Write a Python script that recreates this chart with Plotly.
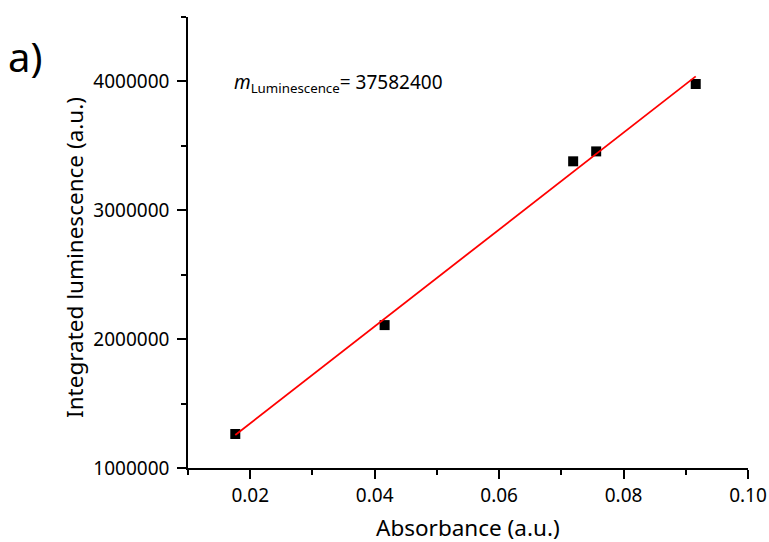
import numpy as np
import plotly.graph_objects as go

# Data
absorbance = [0.0176, 0.0416, 0.0719, 0.0756, 0.0916]
luminescence = [1264000, 2109000, 3380000, 3457000, 3980000]
slope_label = "37582400"

x_ticks = [0.02, 0.04, 0.06, 0.08, 0.10]
x_minor = [0.01, 0.03, 0.05, 0.07, 0.09]
y_ticks = [1000000, 2000000, 3000000, 4000000]
y_minor = [1500000, 2500000, 3500000, 4500000]

# Linear fit line across the data span
coef = np.polyfit(absorbance, luminescence, 1)
fit_x = [min(absorbance), max(absorbance)]
fit_y = [coef[0] * v + coef[1] for v in fit_x]

FONT = "Noto Sans"

fig = go.Figure()
fig.add_trace(go.Scatter(x=absorbance, y=luminescence, mode="markers",
                         marker=dict(symbol="square", size=10, color="black"),
                         showlegend=False))
fig.add_trace(go.Scatter(x=fit_x, y=fit_y, mode="lines",
                         line=dict(color="red", width=1.8), showlegend=False))

fig.update_layout(
    width=769, height=542, autosize=False,
    margin=dict(l=188, r=21, t=17, b=74),
    paper_bgcolor="white", plot_bgcolor="white",
    font=dict(family=FONT, color="black", size=14),
    xaxis=dict(range=[0.01, 0.10], tickvals=x_ticks, tickformat=".2f",
               showline=True, linecolor="black", linewidth=1.5,
               ticks="outside", ticklen=9, tickwidth=1.5, tickcolor="black",
               ticklabelstandoff=0, automargin=False,
               showgrid=False, zeroline=False,
               tickfont=dict(size=19, family=FONT),
               minor=dict(tickvals=x_minor, ticks="outside",
                          ticklen=5, tickwidth=1.5, tickcolor="black", showgrid=False)),
    yaxis=dict(range=[1000000, 4500000], tickvals=y_ticks, tickformat="d",
               showline=True, linecolor="black", linewidth=1.5,
               ticks="outside", ticklen=9, tickwidth=1.5, tickcolor="black",
               ticklabelstandoff=4, automargin=False,
               showgrid=False, zeroline=False,
               tickfont=dict(size=19, family=FONT),
               minor=dict(tickvals=y_minor, ticks="outside",
                          ticklen=5, tickwidth=1.5, tickcolor="black", showgrid=False)),
)

fig.add_annotation(text="a)", xref="paper", yref="paper", x=-0.325, y=0.912,
                   xanchor="left", yanchor="middle", showarrow=False,
                   font=dict(size=40, family=FONT))
fig.add_annotation(text="<i>m</i><sub>Luminescence</sub>= " + slope_label,
                   xref="paper", yref="paper", x=0.0786, y=0.854,
                   xanchor="left", yanchor="middle", showarrow=False,
                   font=dict(size=19, family=FONT))
fig.add_annotation(text="Integrated luminescence (a.u.)", xref="paper", yref="paper",
                   x=-0.2018, y=0.468, xanchor="center", yanchor="middle",
                   textangle=-90, showarrow=False, font=dict(size=22.5, family=FONT))
fig.add_annotation(text="Absorbance (a.u.)", xref="paper", yref="paper",
                   x=0.5, y=-0.133, xanchor="center", yanchor="middle",
                   showarrow=False, font=dict(size=22.5, family=FONT))

fig.write_html("out.html",
               config=dict(responsive=False, displayModeBar=False),
               post_script="document.body.style.margin='0';"
                           "document.body.style.overflow='hidden';")
